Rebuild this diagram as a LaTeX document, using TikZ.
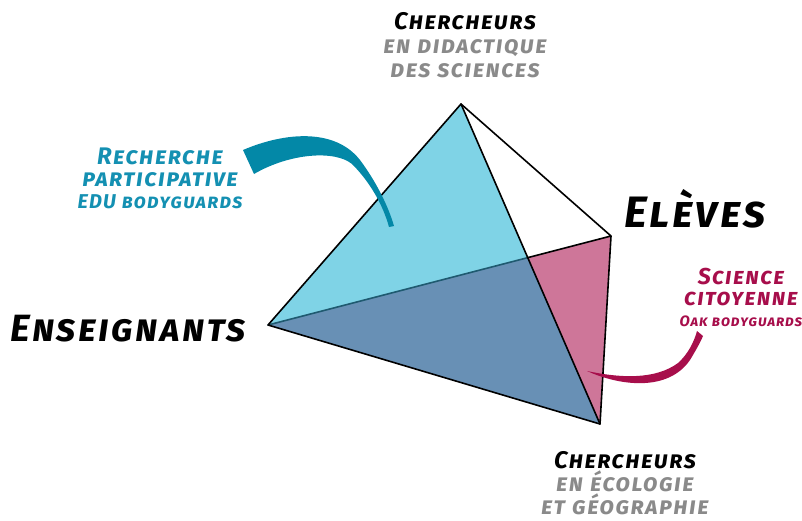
\documentclass[tikz,border=0pt]{standalone}
\usepackage{fontspec}
\setmainfont{Fira Sans}[LetterSpace=6]
\usepackage{tikz}
\usetikzlibrary{calc}

\definecolor{facecyan}{HTML}{7FD3E6}
\definecolor{faceblue}{HTML}{6890B5}
\definecolor{facepink}{HTML}{CE7699}
\definecolor{hiddenedge}{HTML}{1F5A70}
\definecolor{eduteal}{HTML}{1490B2}
\definecolor{brushteal}{HTML}{0388A7}
\definecolor{oakred}{HTML}{A70E4B}
\definecolor{softgrey}{HTML}{8A8A8A}

\begin{document}
\begin{tikzpicture}[x=1pt,y=-1pt,
  lbl/.style={font=\bfseries\itshape, align=center, inner sep=0pt},
  edge/.style={line width=1.6pt, line join=round, line cap=round}]
\useasboundingbox (0,0) rectangle (802,520);

% Vertices of the tetrahedron
\coordinate (top) at (461,104);
\coordinate (rgt) at (611,236);
\coordinate (lft) at (268,325);
\coordinate (bot) at (600,424);
\coordinate (mid) at (intersection of top--bot and lft--rgt);

% Faces
\fill[facecyan] (top) -- (lft) -- (bot) -- cycle;
\fill[facepink] (lft) -- (rgt) -- (bot) -- cycle;
\fill[faceblue] (lft) -- (mid) -- (bot) -- cycle;

% Edges
\draw[edge, hiddenedge] (lft) -- (mid);
\draw[edge] (mid) -- (rgt) -- (top) -- (lft) -- (bot) -- (rgt);
\draw[edge] (top) -- (bot);

% Brush strokes
\fill[brushteal] (243,150) .. controls (285,132) and (335,128) .. (360,160)
  .. controls (375,180) and (388,205) .. (394,226)
  -- (389,227) .. controls (383,205) and (370,182) .. (352,164)
  .. controls (335,150) and (290,153) .. (254,174) -- cycle;
\fill[oakred] (587,371) .. controls (620,386) and (668,392) .. (690,360)
  .. controls (696,350) and (700,343) .. (703,336)
  -- (697,331) .. controls (694,342) and (688,354) .. (678,363)
  .. controls (655,380) and (620,378) .. cycle;

% Labels
\node[lbl, font=\bfseries\itshape\fontsize{24}{24}\selectfont] (chdid) at (465,45)
  {\textsc{Chercheurs}\\ \color{softgrey}\textsc{en didactique}\\ \color{softgrey}\textsc{des sciences}};
\node[lbl, text=eduteal, font=\bfseries\itshape\fontsize{24}{22}\selectfont] (edu) at (160,178)
  {\textsc{Recherche}\\ \textsc{participative}\\ {\fontsize{20}{18}\selectfont\textsc{EDU bodyguards}}};
\node[lbl, font=\bfseries\itshape\fontsize{38}{38}\selectfont] (ens) at (128,329) {\textsc{Enseignants}};
\node[lbl, font=\bfseries\itshape\fontsize{44}{44}\selectfont] (elv) at (695,209) {\textsc{Elèves}};
\node[lbl, text=oakred, font=\bfseries\itshape\fontsize{23}{21}\selectfont] (oak) at (741,297)
  {\textsc{Science}\\ \textsc{citoyenne}\\ {\fontsize{15}{15}\selectfont\textsc{Oak bodyguards}}};
\node[lbl, font=\bfseries\itshape\fontsize{24}{23}\selectfont] (checo) at (625,483)
  {\textsc{Chercheurs}\\ \color{softgrey}\textsc{en écologie}\\ \color{softgrey}\textsc{et géographie}};
\end{tikzpicture}
\end{document}
